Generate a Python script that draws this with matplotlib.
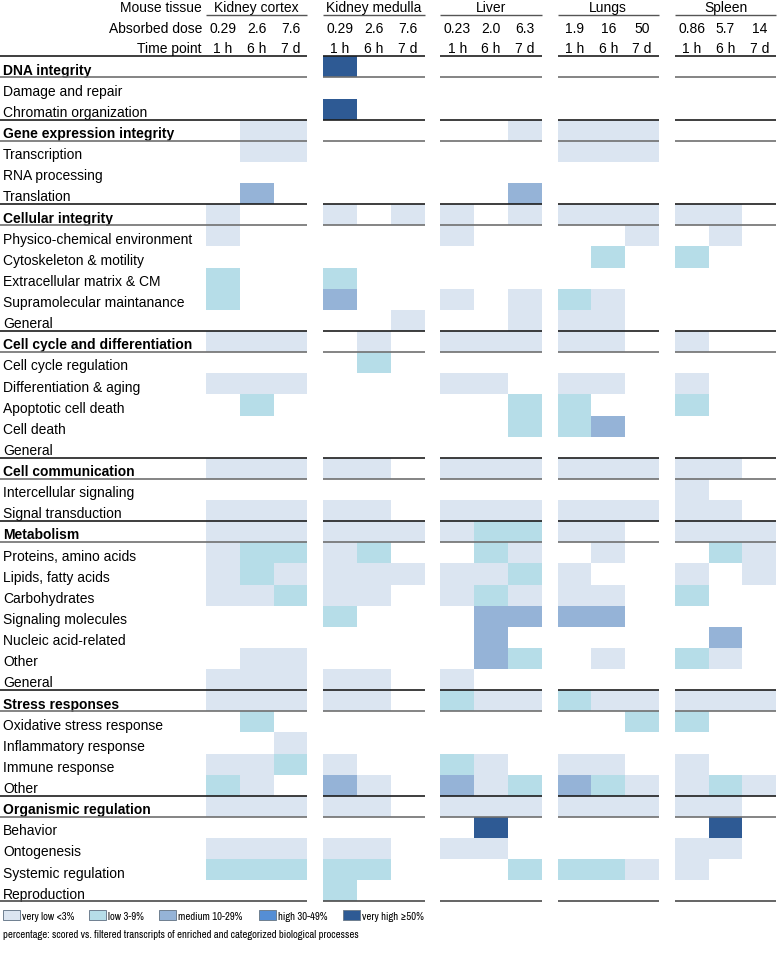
import numpy as np
import matplotlib.pyplot as plt
from matplotlib import font_manager as fm
from matplotlib.colors import ListedColormap, BoundaryNorm
from matplotlib.patches import Rectangle

plt.rcParams['font.family'] = ['Liberation Sans', 'DejaVu Sans']

# ---- data -------------------------------------------------------------
categories = [
    "DNA integrity", "Damage and repair", "Chromatin organization",
    "Gene expression integrity", "Transcription", "RNA processing", "Translation",
    "Cellular integrity", "Physico-chemical environment", "Cytoskeleton & motility",
    "Extracellular matrix & CM", "Supramolecular maintanance", "General",
    "Cell cycle and differentiation", "Cell cycle regulation", "Differentiation & aging",
    "Apoptotic cell death", "Cell death", "General",
    "Cell communication", "Intercellular signaling", "Signal transduction",
    "Metabolism", "Proteins, amino acids", "Lipids, fatty acids", "Carbohydrates",
    "Signaling molecules", "Nucleic acid-related", "Other", "General",
    "Stress responses", "Oxidative stress response", "Inflammatory response",
    "Immune response", "Other",
    "Organismic regulation", "Behavior", "Ontogenesis", "Systemic regulation",
    "Reproduction",
]
section_rows = [0, 3, 7, 13, 19, 22, 30, 35]

tissues = ["Kidney cortex", "Kidney medulla", "Liver", "Lungs", "Spleen"]
doses = [["0.29", "2.6", "7.6"], ["0.29", "2.6", "7.6"], ["0.23", "2.0", "6.3"],
         ["1.9", "16", "50"], ["0.86", "5.7", "14"]]
time_points = ["1 h", "6 h", "7 d"]

# level per row (1 h, 6 h, 7 d): 0 none, 1 very low ... 5 very high
kidney_cortex = [
    "000", "000", "000", "011", "011", "000", "030", "100", "100", "000",
    "200", "200", "000", "111", "000", "111", "020", "000", "000", "111",
    "000", "111", "111", "122", "121", "112", "000", "000", "011", "111",
    "111", "020", "001", "112", "210", "111", "000", "111", "222", "000",
]
kidney_medulla = [
    "500", "000", "500", "000", "000", "000", "000", "101", "000", "000",
    "200", "300", "001", "010", "020", "000", "000", "000", "000", "110",
    "000", "110", "111", "120", "111", "110", "200", "000", "000", "110",
    "110", "000", "000", "100", "310", "110", "000", "110", "220", "200",
]
liver = [
    "000", "000", "000", "001", "000", "000", "003", "101", "100", "000",
    "000", "101", "001", "111", "000", "110", "002", "002", "000", "111",
    "000", "111", "122", "021", "112", "121", "033", "030", "032", "100",
    "211", "000", "000", "210", "312", "111", "050", "110", "002", "000",
]
lungs = [
    "000", "000", "000", "111", "111", "000", "000", "111", "001", "020",
    "000", "210", "110", "110", "000", "110", "200", "230", "000", "111",
    "000", "111", "110", "010", "100", "110", "330", "000", "010", "000",
    "211", "002", "000", "110", "321", "111", "000", "000", "221", "000",
]
spleen = [
    "000", "000", "000", "000", "000", "000", "000", "110", "010", "200",
    "000", "000", "000", "100", "000", "100", "200", "000", "000", "110",
    "100", "110", "111", "021", "101", "200", "000", "030", "210", "000",
    "111", "200", "000", "100", "121", "110", "050", "110", "100", "000",
]
tissue_levels = [kidney_cortex, kidney_medulla, liver, lungs, spleen]

level_labels = ["very low <3%", "low 3-9%", "medium 10-29%", "high 30-49%",
                "very high \u226550%"]
level_colors = ["#dbe5f1", "#b6dde8", "#95b3d7", "#558ed5", "#2e5a94"]
footnote = ("percentage: scored vs. filtered transcripts of enriched and "
            "categorized biological processes")

# ---- layout (pixels) --------------------------------------------------
W, H = 778, 954
ROW_TOP, ROW_H = 57.3, 21.13
COL_W = 33.8
GROUP_X0 = 206 + 117.2 * np.arange(len(tissues))
LABEL_X = 3
HEAD_BASE = [11.7, 33.3, 52.6]
FS = 10

# narrow face for the legend, like the original's condensed text
installed = {f.name for f in fm.fontManager.ttflist}
narrow = [n for n in ["Liberation Sans Narrow", "Arial Narrow", "Archivo Narrow",
                      "IBM Plex Sans Condensed"] if n in installed]
NARROW = (narrow[:1] or []) + ['Liberation Sans', 'DejaVu Sans']

fig = plt.figure(figsize=(W / 100, H / 100), dpi=100)
ax = fig.add_axes([0, 0, 1, 1])
ax.set_xlim(0, W)
ax.set_ylim(H, 0)
ax.axis('off')

cmap = ListedColormap(level_colors)
norm = BoundaryNorm(np.arange(0.5, 6.5, 1), cmap.N)
y_edges = ROW_TOP + ROW_H * np.arange(len(categories) + 1)

for g, rows in enumerate(tissue_levels):
    vals = np.array([[int(ch) for ch in r] for r in rows], dtype=float)
    vals = np.ma.masked_equal(vals, 0)
    x_edges = GROUP_X0[g] + COL_W * np.arange(4)
    ax.pcolormesh(x_edges, y_edges, vals, cmap=cmap, norm=norm, zorder=1)

# row labels
for i, name in enumerate(categories):
    y = ROW_TOP + (i + 1) * ROW_H - 3.8
    ax.text(LABEL_X, y, name, fontsize=FS, va='baseline', ha='left',
            fontweight='bold' if i in section_rows else 'normal')

# horizontal rules (label area joins first group)
group_ends = GROUP_X0 + 3 * COL_W
segs = [(0, group_ends[0])] + [(GROUP_X0[g], group_ends[g]) for g in range(1, len(tissues))]
for r in section_rows:
    for x0, x1 in segs:
        ax.hlines(ROW_TOP + r * ROW_H, x0, x1, color="#1e1e1e", lw=1.2, zorder=3)
        ax.hlines(ROW_TOP + (r + 1) * ROW_H, x0, x1, color="#707070", lw=1.2, zorder=3)
for x0, x1 in segs:
    ax.hlines(ROW_TOP + len(categories) * ROW_H, x0, x1, color="#4a4a4a", lw=1.2, zorder=3)

# header
for txt, y in zip(["Mouse tissue", "Absorbed dose", "Time point"], HEAD_BASE):
    ax.text(202, y, txt, fontsize=FS, ha='right', va='baseline')
for g, name in enumerate(tissues):
    xc = GROUP_X0[g] + 1.5 * COL_W
    ax.text(xc, HEAD_BASE[0], name, fontsize=FS, ha='center', va='baseline')
    ax.hlines(15.5, GROUP_X0[g], group_ends[g], color="#555555", lw=1.0)
    for c in range(3):
        xcc = GROUP_X0[g] + (c + 0.5) * COL_W
        ax.text(xcc, HEAD_BASE[1], doses[g][c], fontsize=FS, ha='center', va='baseline')
        ax.text(xcc, HEAD_BASE[2], time_points[c], fontsize=FS, ha='center', va='baseline')

# legend
LEG_X = [3, 89, 159, 259, 343]
for x, lab, col in zip(LEG_X, level_labels, level_colors):
    ax.add_patch(Rectangle((x, 910.5), 17, 10.5, facecolor=col, edgecolor="#6f7f90", lw=0.7))
    ax.text(x + 19.5, 920.5, lab, fontsize=7.7, va='baseline', ha='left', family=NARROW)
ax.text(3, 938.5, footnote, fontsize=7.7, va='baseline', ha='left', family=NARROW)

fig.savefig("out.png", dpi=100)
